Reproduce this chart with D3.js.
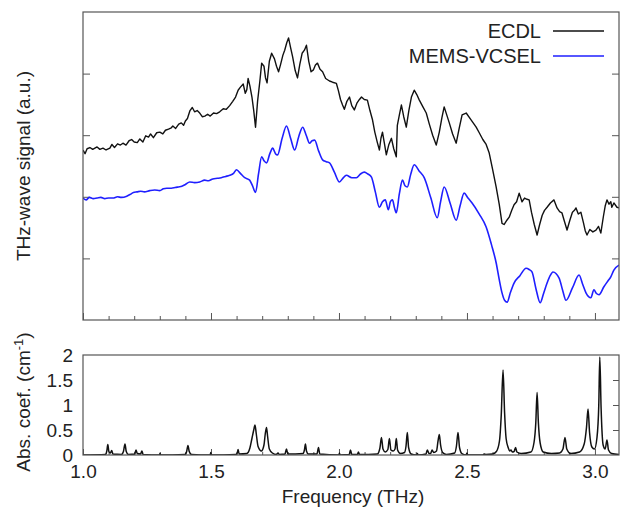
<!DOCTYPE html>
<html>
<head>
<meta charset="utf-8">
<script src="https://cdnjs.cloudflare.com/ajax/libs/d3/7.8.5/d3.min.js"></script>
<style>
  html, body { margin: 0; padding: 0; background: #fff; }
  svg { display: block; font-family: 'Liberation Sans', Arial, sans-serif; }
</style>
</head>
<body>
<div id="chart"></div>
<script>
// THz-wave signal (a.u.), frequency in THz
const ecdl = [
  [1.000, 2.76], [1.008, 2.70], [1.016, 2.78], [1.027, 2.80], [1.038, 2.77], [1.055, 2.81],
  [1.066, 2.77], [1.078, 2.79], [1.090, 2.76], [1.105, 2.79], [1.113, 2.85], [1.123, 2.80],
  [1.135, 2.86], [1.146, 2.84], [1.156, 2.87], [1.168, 2.84], [1.180, 2.91], [1.190, 2.93],
  [1.200, 2.89], [1.212, 2.88], [1.222, 2.94], [1.234, 2.89], [1.245, 2.99], [1.256, 2.97],
  [1.264, 3.02], [1.275, 2.96], [1.288, 3.04], [1.300, 3.05], [1.312, 3.02], [1.322, 3.08],
  [1.334, 3.10], [1.345, 3.12], [1.351, 3.15], [1.362, 3.11], [1.374, 3.18], [1.384, 3.20],
  [1.393, 3.16], [1.400, 3.23], [1.408, 3.27], [1.418, 3.40], [1.427, 3.45], [1.436, 3.38],
  [1.446, 3.40], [1.456, 3.36], [1.466, 3.30], [1.476, 3.31], [1.487, 3.34], [1.497, 3.31],
  [1.510, 3.36], [1.522, 3.35], [1.534, 3.38], [1.548, 3.43], [1.560, 3.42], [1.573, 3.48],
  [1.585, 3.55], [1.596, 3.62], [1.606, 3.73], [1.615, 3.78], [1.626, 3.83], [1.634, 3.68],
  [1.640, 3.74], [1.645, 3.92], [1.652, 3.80], [1.660, 3.62], [1.667, 3.40], [1.674, 3.13],
  [1.682, 3.55], [1.691, 3.88], [1.698, 4.17], [1.707, 4.12], [1.713, 3.93], [1.719, 3.85],
  [1.728, 4.20], [1.737, 4.33], [1.748, 4.24], [1.756, 4.12], [1.764, 4.03], [1.772, 4.15],
  [1.781, 4.30], [1.788, 4.38], [1.796, 4.50], [1.803, 4.58], [1.811, 4.42], [1.819, 4.27],
  [1.829, 4.05], [1.838, 3.93], [1.847, 4.15], [1.856, 4.33], [1.865, 4.38], [1.873, 4.46],
  [1.882, 4.20], [1.891, 4.03], [1.900, 4.06], [1.908, 4.14], [1.916, 4.17], [1.926, 4.07],
  [1.936, 4.03], [1.948, 3.92], [1.963, 3.88], [1.975, 3.86], [1.990, 3.84], [1.998, 3.72],
  [2.006, 3.58], [2.014, 3.49], [2.021, 3.42], [2.031, 3.55], [2.041, 3.62], [2.050, 3.48],
  [2.060, 3.41], [2.070, 3.52], [2.080, 3.58], [2.088, 3.62], [2.099, 3.58], [2.111, 3.57],
  [2.121, 3.40], [2.131, 3.25], [2.140, 3.05], [2.150, 2.88], [2.158, 2.76], [2.164, 2.95],
  [2.170, 3.05], [2.177, 2.88], [2.185, 2.68], [2.195, 2.85], [2.205, 2.95], [2.214, 2.78],
  [2.224, 2.65], [2.228, 3.16], [2.236, 3.33], [2.244, 3.49], [2.253, 3.30], [2.263, 3.13],
  [2.273, 3.40], [2.283, 3.62], [2.294, 3.73], [2.304, 3.66], [2.314, 3.57], [2.328, 3.46],
  [2.341, 3.36], [2.353, 3.18], [2.366, 3.00], [2.380, 2.84], [2.392, 3.05], [2.402, 3.28],
  [2.411, 3.46], [2.421, 3.33], [2.431, 3.20], [2.444, 3.02], [2.458, 2.87], [2.470, 3.12],
  [2.481, 3.33], [2.497, 3.36], [2.516, 3.25], [2.536, 3.13], [2.548, 3.04], [2.562, 2.93],
  [2.575, 2.85], [2.587, 2.71], [2.600, 2.45], [2.614, 2.16], [2.626, 1.88], [2.637, 1.57],
  [2.645, 1.55], [2.656, 1.62], [2.665, 1.67], [2.675, 1.78], [2.684, 1.87], [2.694, 1.92],
  [2.704, 2.06], [2.715, 1.92], [2.725, 1.98], [2.735, 1.96], [2.743, 1.95], [2.752, 1.75],
  [2.763, 1.55], [2.774, 1.38], [2.784, 1.55], [2.794, 1.70], [2.803, 1.78], [2.813, 1.83],
  [2.826, 1.90], [2.840, 1.95], [2.852, 1.82], [2.862, 1.76], [2.871, 1.74], [2.881, 1.60],
  [2.891, 1.46], [2.902, 1.62], [2.912, 1.75], [2.920, 1.78], [2.926, 1.82], [2.935, 1.72],
  [2.945, 1.75], [2.955, 1.58], [2.962, 1.45], [2.969, 1.38], [2.980, 1.47], [2.992, 1.43],
  [3.004, 1.46], [3.014, 1.52], [3.023, 1.41], [3.033, 1.68], [3.040, 1.85], [3.047, 1.95],
  [3.055, 1.88], [3.062, 1.92], [3.066, 1.83], [3.074, 1.90], [3.086, 1.83], [3.094, 1.82]
];

const memsVcsel = [
  [1.000, 1.98], [1.012, 1.95], [1.025, 1.99], [1.040, 1.97], [1.055, 1.98], [1.070, 1.99],
  [1.085, 1.97], [1.100, 1.98], [1.117, 1.98], [1.135, 2.00], [1.150, 1.99], [1.171, 2.01],
  [1.185, 2.04], [1.197, 2.07], [1.211, 2.08], [1.225, 2.09], [1.240, 2.08], [1.261, 2.10],
  [1.280, 2.11], [1.300, 2.10], [1.314, 2.13], [1.327, 2.14], [1.345, 2.14], [1.360, 2.15],
  [1.373, 2.16], [1.386, 2.17], [1.400, 2.20], [1.417, 2.24], [1.436, 2.23], [1.456, 2.24],
  [1.475, 2.27], [1.490, 2.26], [1.507, 2.29], [1.525, 2.30], [1.540, 2.31], [1.557, 2.33],
  [1.573, 2.35], [1.588, 2.38], [1.600, 2.44], [1.615, 2.38], [1.632, 2.31], [1.651, 2.27],
  [1.662, 2.18], [1.674, 2.07], [1.686, 2.38], [1.698, 2.65], [1.708, 2.58], [1.717, 2.55],
  [1.730, 2.70], [1.741, 2.79], [1.752, 2.70], [1.760, 2.68], [1.778, 2.95], [1.795, 3.15],
  [1.811, 2.95], [1.827, 2.76], [1.843, 2.98], [1.858, 3.13], [1.872, 3.00], [1.885, 2.87],
  [1.895, 2.91], [1.905, 2.92], [1.920, 2.75], [1.936, 2.60], [1.950, 2.57], [1.963, 2.55],
  [1.982, 2.40], [2.002, 2.24], [2.015, 2.30], [2.029, 2.35], [2.050, 2.31], [2.068, 2.31],
  [2.084, 2.37], [2.099, 2.40], [2.113, 2.37], [2.127, 2.32], [2.142, 2.08], [2.158, 1.83],
  [2.170, 1.92], [2.181, 1.95], [2.193, 1.79], [2.201, 1.92], [2.209, 1.95], [2.217, 1.82],
  [2.224, 1.74], [2.236, 2.05], [2.248, 2.27], [2.258, 2.18], [2.267, 2.16], [2.280, 2.36],
  [2.294, 2.52], [2.313, 2.42], [2.333, 2.31], [2.359, 1.98], [2.384, 1.66], [2.397, 1.92],
  [2.411, 2.16], [2.434, 1.90], [2.458, 1.62], [2.473, 1.85], [2.489, 2.06], [2.504, 1.98],
  [2.520, 1.90], [2.548, 1.72], [2.575, 1.51], [2.596, 1.22], [2.614, 0.93], [2.626, 0.66],
  [2.637, 0.44], [2.647, 0.32], [2.657, 0.29], [2.670, 0.45], [2.684, 0.60], [2.707, 0.72],
  [2.731, 0.84], [2.743, 0.82], [2.754, 0.78], [2.770, 0.50], [2.786, 0.28], [2.800, 0.44],
  [2.813, 0.60], [2.825, 0.72], [2.836, 0.78], [2.860, 0.68], [2.874, 0.48], [2.887, 0.32],
  [2.912, 0.52], [2.938, 0.73], [2.952, 0.58], [2.965, 0.44], [2.984, 0.36], [2.996, 0.49],
  [3.006, 0.43], [3.016, 0.41], [3.035, 0.54], [3.050, 0.63], [3.062, 0.70], [3.074, 0.81],
  [3.094, 0.89]
];

// absorption coefficient (cm^-1), frequency in THz
const absCoef = [
  [1.000, 0.00], [1.088, 0.01], [1.093, 0.08], [1.097, 0.21], [1.101, 0.07], [1.107, 0.04],
  [1.112, 0.09], [1.117, 0.02], [1.150, 0.01], [1.158, 0.07], [1.164, 0.22], [1.169, 0.07],
  [1.178, 0.01], [1.202, 0.02], [1.207, 0.10], [1.212, 0.03], [1.225, 0.02], [1.230, 0.08],
  [1.235, 0.01], [1.299, 0.00], [1.301, 0.03], [1.303, 0.00], [1.398, 0.01], [1.405, 0.07],
  [1.410, 0.19], [1.415, 0.07], [1.424, 0.01], [1.497, 0.00], [1.499, 0.05], [1.501, 0.00],
  [1.597, 0.01], [1.603, 0.05], [1.606, 0.11], [1.610, 0.02], [1.640, 0.03], [1.652, 0.14],
  [1.660, 0.33], [1.667, 0.50], [1.672, 0.60], [1.677, 0.42], [1.684, 0.17], [1.697, 0.08],
  [1.707, 0.20], [1.712, 0.42], [1.717, 0.55], [1.721, 0.38], [1.728, 0.12], [1.740, 0.04],
  [1.755, 0.01], [1.762, 0.04], [1.767, 0.01], [1.789, 0.02], [1.795, 0.12], [1.800, 0.02],
  [1.860, 0.03], [1.865, 0.10], [1.869, 0.22], [1.873, 0.08], [1.880, 0.02], [1.914, 0.02],
  [1.920, 0.15], [1.925, 0.02], [2.000, 0.00], [2.002, 0.04], [2.004, 0.00], [2.040, 0.01],
  [2.045, 0.10], [2.050, 0.01], [2.072, 0.01], [2.076, 0.06], [2.080, 0.01], [2.150, 0.02],
  [2.160, 0.14], [2.166, 0.35], [2.172, 0.12], [2.181, 0.06], [2.191, 0.11], [2.197, 0.33],
  [2.203, 0.10], [2.212, 0.08], [2.219, 0.12], [2.224, 0.33], [2.229, 0.10], [2.240, 0.03],
  [2.256, 0.05], [2.262, 0.18], [2.267, 0.45], [2.272, 0.15], [2.282, 0.02], [2.302, 0.00],
  [2.306, 0.03], [2.310, 0.00], [2.340, 0.02], [2.345, 0.10], [2.352, 0.03], [2.358, 0.03],
  [2.364, 0.10], [2.370, 0.05], [2.381, 0.08], [2.387, 0.28], [2.392, 0.41], [2.397, 0.20],
  [2.405, 0.05], [2.420, 0.01], [2.452, 0.04], [2.459, 0.18], [2.465, 0.45], [2.471, 0.15],
  [2.480, 0.03], [2.497, 0.00], [2.500, 0.04], [2.503, 0.00], [2.562, 0.00], [2.567, 0.02],
  [2.574, 0.01], [2.600, 0.02], [2.615, 0.07], [2.627, 0.28], [2.634, 0.80], [2.641, 1.70],
  [2.647, 0.85], [2.653, 0.33], [2.661, 0.15], [2.667, 0.08], [2.672, 0.10], [2.677, 0.06],
  [2.684, 0.07], [2.690, 0.15], [2.695, 0.06], [2.712, 0.03], [2.750, 0.06], [2.762, 0.25],
  [2.769, 0.65], [2.774, 1.25], [2.779, 0.65], [2.786, 0.24], [2.798, 0.06], [2.830, 0.03],
  [2.862, 0.04], [2.875, 0.12], [2.883, 0.35], [2.890, 0.12], [2.905, 0.03], [2.940, 0.06],
  [2.958, 0.22], [2.967, 0.55], [2.973, 0.92], [2.979, 0.45], [2.988, 0.16], [2.998, 0.12],
  [3.008, 0.35], [3.015, 1.00], [3.019, 1.96], [3.024, 0.95], [3.032, 0.20], [3.040, 0.12],
  [3.047, 0.30], [3.053, 0.10], [3.065, 0.03], [3.094, 0.01]
];

const freqTicks = [1.0, 1.5, 2.0, 2.5, 3.0];
const freqMinor = d3.range(11, 31).map(d => d / 10);
const signalTicks = [1, 2, 3, 4];
const absTicks = [0, 0.5, 1, 1.5, 2];
const absTickLabels = ['0', '0.5', '1', '1.5', '2'];

const legend = [
  { name: 'ECDL', data: ecdl, color: '#111111' },
  { name: 'MEMS-VCSEL', data: memsVcsel, color: '#1f1fff' }
];

const W = 620, H = 509;
const left = 83, right = 619;
const top1 = 12, bot1 = 320;
const top2 = 355, bot2 = 455;
const frameColor = '#555';
const fontSize = '19px';

const svg = d3.select('#chart').append('svg')
  .attr('width', W).attr('height', H);

const x = d3.scaleLinear().domain([1.0, 3.094]).range([left, right]);
const yTop = d3.scaleLinear().domain([0, 5]).range([bot1, top1]);
const yAbs = d3.scaleLinear().domain([0, 2]).range([bot2, top2]);

const defs = svg.append('defs');
defs.append('clipPath').attr('id', 'clipTop')
  .append('rect').attr('x', left).attr('y', top1).attr('width', right - left).attr('height', bot1 - top1);
defs.append('clipPath').attr('id', 'clipAbs')
  .append('rect').attr('x', left).attr('y', top2 - 2).attr('width', right - left).attr('height', bot2 - top2 + 2);

// ---- top panel ----
svg.append('g').attr('transform', `translate(0,${bot1})`)
  .call(d3.axisBottom(x).tickValues(freqTicks).tickSize(-7).tickFormat(''))
  .call(g => g.select('.domain').remove())
  .call(g => g.selectAll('line').attr('stroke', frameColor));
svg.append('g').attr('transform', `translate(0,${bot1})`)
  .call(d3.axisBottom(x).tickValues(freqMinor.filter(d => !freqTicks.includes(d))).tickSize(-4).tickFormat(''))
  .call(g => g.select('.domain').remove())
  .call(g => g.selectAll('line').attr('stroke', frameColor));
svg.append('g').attr('transform', `translate(${left},0)`)
  .call(d3.axisLeft(yTop).tickValues(signalTicks).tickSize(-7).tickFormat(''))
  .call(g => g.select('.domain').remove())
  .call(g => g.selectAll('line').attr('stroke', frameColor));
svg.append('g').attr('transform', `translate(${right},0)`)
  .call(d3.axisRight(yTop).tickValues(signalTicks).tickSize(-7).tickFormat(''))
  .call(g => g.select('.domain').remove())
  .call(g => g.selectAll('line').attr('stroke', frameColor));

const gTop = svg.append('g').attr('clip-path', 'url(#clipTop)');
gTop.append('path').datum(ecdl)
  .attr('d', d3.line().x(d => x(d[0])).y(d => yTop(d[1])))
  .attr('fill', 'none').attr('stroke', legend[0].color).attr('stroke-width', 1.4)
  .attr('stroke-linejoin', 'round');
gTop.append('path').datum(memsVcsel)
  .attr('d', d3.line().x(d => x(d[0])).y(d => yTop(d[1])).curve(d3.curveMonotoneX))
  .attr('fill', 'none').attr('stroke', legend[1].color).attr('stroke-width', 1.6);

svg.append('rect').attr('x', left).attr('y', top1)
  .attr('width', right - left).attr('height', bot1 - top1)
  .attr('fill', 'none').attr('stroke', frameColor).attr('stroke-width', 1.2);

// legend
const lg = svg.append('g').selectAll('g').data(legend).join('g')
  .attr('transform', (d, i) => `translate(0,${31 + i * 25})`);
lg.append('text').text(d => d.name)
  .attr('x', 541).attr('y', 7).attr('text-anchor', 'end')
  .style('font-size', '20px').style('fill', '#222');
lg.append('line').attr('x1', 553).attr('x2', 604)
  .attr('stroke', d => d.color).attr('stroke-width', 1.5);

svg.append('text')
  .attr('transform', `translate(30,${(top1 + bot1) / 2}) rotate(-90)`)
  .attr('text-anchor', 'middle')
  .style('font-size', fontSize).style('fill', '#222')
  .text('THz-wave signal (a.u.)');

// ---- absorption panel ----
svg.append('g').attr('transform', `translate(0,${bot2})`)
  .call(d3.axisBottom(x).tickValues(freqTicks).tickSize(-6).tickPadding(10).tickFormat(d3.format('.1f')))
  .call(g => g.select('.domain').remove())
  .call(g => g.selectAll('line').attr('stroke', frameColor))
  .call(g => g.selectAll('text').style('font-size', fontSize).style('fill', '#222')
    .style('font-family', "'Liberation Sans', Arial, sans-serif"));
svg.append('g').attr('transform', `translate(0,${bot2})`)
  .call(d3.axisBottom(x).tickValues(freqMinor.filter(d => !freqTicks.includes(d))).tickSize(-3).tickFormat(''))
  .call(g => g.select('.domain').remove())
  .call(g => g.selectAll('line').attr('stroke', frameColor));
svg.append('g').attr('transform', `translate(${left},0)`)
  .call(d3.axisLeft(yAbs).tickValues(absTicks).tickSize(0).tickPadding(10)
    .tickFormat((d, i) => absTickLabels[i]))
  .call(g => g.select('.domain').remove())
  .call(g => g.selectAll('text').style('font-size', fontSize).style('fill', '#222')
    .style('font-family', "'Liberation Sans', Arial, sans-serif"));
svg.append('g').attr('transform', `translate(${right},0)`)
  .call(d3.axisRight(yAbs).tickValues(absTicks.slice(1, 4)).tickSize(-6).tickFormat(''))
  .call(g => g.select('.domain').remove())
  .call(g => g.selectAll('line').attr('stroke', frameColor));

svg.append('g').attr('clip-path', 'url(#clipAbs)')
  .append('path').datum(absCoef)
  .attr('d', d3.line().x(d => x(d[0])).y(d => yAbs(d[1])).curve(d3.curveMonotoneX))
  .attr('fill', 'none').attr('stroke', '#111').attr('stroke-width', 1.5)
  .attr('stroke-linejoin', 'round');

svg.append('rect').attr('x', left).attr('y', top2)
  .attr('width', right - left).attr('height', bot2 - top2)
  .attr('fill', 'none').attr('stroke', frameColor).attr('stroke-width', 1.2);

const absLabel = svg.append('text')
  .attr('transform', `translate(30,${(top2 + bot2) / 2 - 3}) rotate(-90)`)
  .attr('text-anchor', 'middle')
  .style('font-size', fontSize).style('fill', '#222');
absLabel.append('tspan').text('Abs. coef. (cm');
absLabel.append('tspan').text('-1').attr('dy', -7).style('font-size', '13px');
absLabel.append('tspan').text(')').attr('dy', 7);

svg.append('text')
  .attr('x', 353).attr('y', 503)
  .attr('text-anchor', 'middle')
  .style('font-size', fontSize).style('fill', '#222')
  .text('Frequency (THz)');
</script>
</body>
</html>
